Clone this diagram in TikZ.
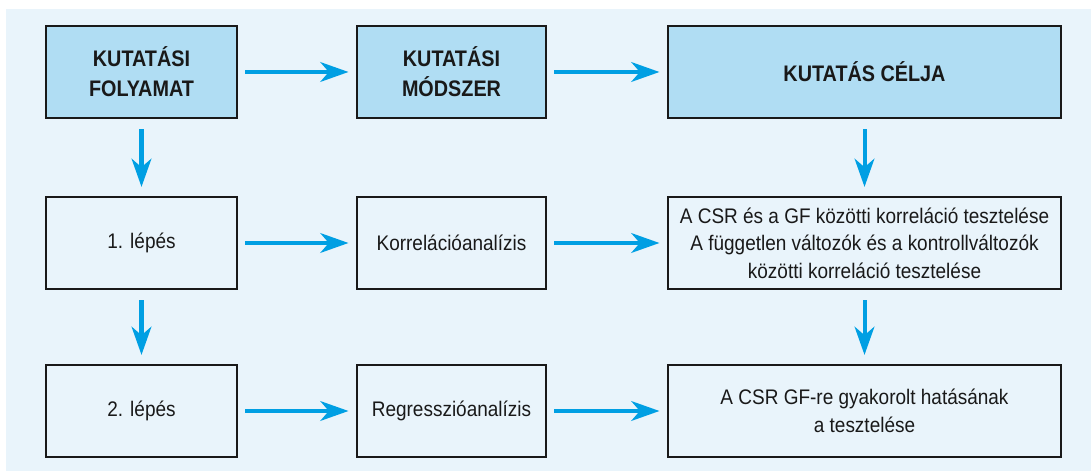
\documentclass[tikz,border=0pt]{standalone}
\usepackage{fontspec}
\setmainfont{Liberation Sans}[FakeStretch=0.9]
\newfontfamily\headfont{Liberation Sans}[FakeStretch=0.88]
\usepackage{xcolor}
\usepackage{tikz}
\usetikzlibrary{positioning,arrows.meta}
\definecolor{bgblue}{RGB}{233,244,251}
\definecolor{headblue}{RGB}{176,221,243}
\definecolor{arrowblue}{RGB}{0,159,227}

\begin{document}
\begin{tikzpicture}[
    x=0.025cm, y=-0.025cm,
    box/.style={rectangle, draw=black!90, line width=1.8pt, minimum height=2.3cm, align=center, font=\fontsize{15}{19.6}\selectfont, text=black!90},
    headbox/.style={box, fill=headblue, font=\headfont\bfseries\fontsize{16}{21.5}\selectfont},
    arr/.style={-{Stealth[length=20pt, width=14pt, inset=6pt]}, arrowblue, line width=2.85pt},
    harr/.style={arr, shorten <=0.18cm, shorten >=0.18cm},
    varr/.style={arr, shorten <=0.25cm, shorten >=0.22cm}
]
\useasboundingbox (0,0) rectangle (1091,471);
\fill[bgblue] (6,9) rectangle (1091,471);

% Header row
\node[headbox, minimum width=4.775cm] (folyamat) at (141.5,72) {KUTATÁSI\\FOLYAMAT};
\node[headbox, minimum width=4.725cm] (modszer) at (451.5,72) {KUTATÁSI\\MÓDSZER};
\node[headbox, minimum width=9.825cm] (cel) at (864.5,72) {KUTATÁS CÉLJA};

% First step
\node[box, minimum width=4.775cm] (lepes1) at (141.5,243) {1. lépés};
\node[box, minimum width=4.725cm] (korr) at (451.5,243) {Korrelációanalízis};
\node[box, minimum width=9.825cm] (korrcel) at (864.5,243) {A CSR és a GF közötti korreláció tesztelése\\A független változók és a kontrollváltozók\\közötti korreláció tesztelése};

% Second step
\node[box, minimum width=4.775cm] (lepes2) at (141.5,411) {2. lépés};
\node[box, minimum width=4.725cm] (regr) at (451.5,411) {Regresszióanalízis};
\node[box, minimum width=9.825cm] (regrcel) at (864.5,411) {A CSR GF-re gyakorolt hatásának\\a tesztelése};

% Arrows
\draw[harr] (folyamat) -- (modszer);
\draw[harr] (modszer) -- (cel);
\draw[harr] (lepes1) -- (korr);
\draw[harr] (korr) -- (korrcel);
\draw[harr] (lepes2) -- (regr);
\draw[harr] (regr) -- (regrcel);
\draw[varr] (folyamat) -- (lepes1);
\draw[varr] (lepes1) -- (lepes2);
\draw[varr] (cel) -- (korrcel);
\draw[varr] (korrcel) -- (regrcel);

\end{tikzpicture}
\end{document}
